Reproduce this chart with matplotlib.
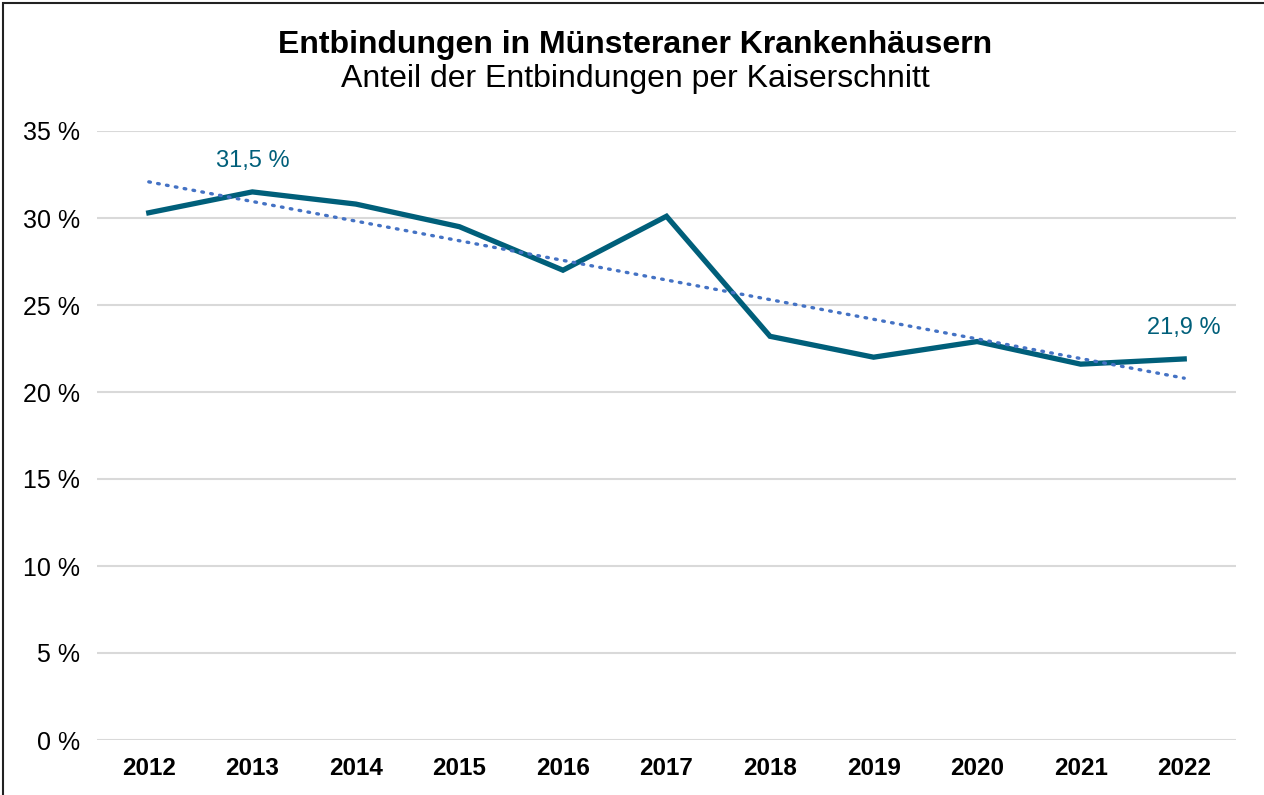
import numpy as np
import matplotlib.pyplot as plt
from matplotlib.patches import Rectangle

plt.rcParams['font.family'] = ['Liberation Sans', 'DejaVu Sans']

years = ['2012', '2013', '2014', '2015', '2016', '2017', '2018', '2019', '2020', '2021', '2022']
anteil = [30.3, 31.5, 30.8, 29.5, 27.0, 30.1, 23.2, 22.0, 22.9, 21.6, 21.9]
yticks = [0, 5, 10, 15, 20, 25, 30, 35]

line_col = '#005f7a'
trend_col = '#4472c4'

fig = plt.figure(figsize=(12.64, 7.95), dpi=100)
ax = fig.add_axes([97/1264, 1 - 740/795, (1236-97)/1264, (740-131)/795])

x = np.arange(len(years))
ax.plot(x, anteil, color=line_col, lw=3.8, solid_joinstyle='miter', zorder=3)

# linearer Trend
k, d = np.polyfit(x, anteil, 1)
ax.plot(x, k * x + d, color=trend_col, lw=2.4, linestyle=(0, (0.5, 2.2)),
        dash_capstyle='round', zorder=4)

# Beschriftung 2013 und letzter Wert
for i in (1, len(years) - 1):
    ax.annotate(f"{anteil[i]:.1f} %".replace('.', ','), (x[i], anteil[i]),
                xytext=(0, 22), textcoords='offset points', ha='center', va='center',
                color=line_col, fontsize=17)

ax.set_xlim(-0.5, len(years) - 0.5)
ax.set_ylim(0, 35)
ax.set_yticks(yticks)
ax.set_yticklabels([f"{v} %" for v in yticks], fontsize=18)
ax.set_xticks(x)
ax.set_xticklabels(years, fontsize=17.5, fontweight='bold')
ax.tick_params(length=0)
ax.tick_params(axis='x', pad=12)
ax.tick_params(axis='y', pad=12)
ax.grid(axis='y', color='#d9d9d9', lw=1.5)
ax.set_axisbelow(True)
for s in ax.spines.values():
    s.set_visible(False)

xc = 635 / 1264
fig.text(xc, 1 - 45/795, 'Entbindungen in Münsteraner Krankenhäusern',
         ha='center', va='center', fontsize=23, fontweight='bold')
fig.text(xc, 1 - 79/795, 'Anteil der Entbindungen per Kaiserschnitt',
         ha='center', va='center', fontsize=23)

fig.patches.append(Rectangle((3/1264, -0.05), 1.1, 1 - 3/795 + 0.05, transform=fig.transFigure,
                             fill=False, edgecolor='#222222', lw=1.5))

fig.savefig('out.png', dpi=100)
